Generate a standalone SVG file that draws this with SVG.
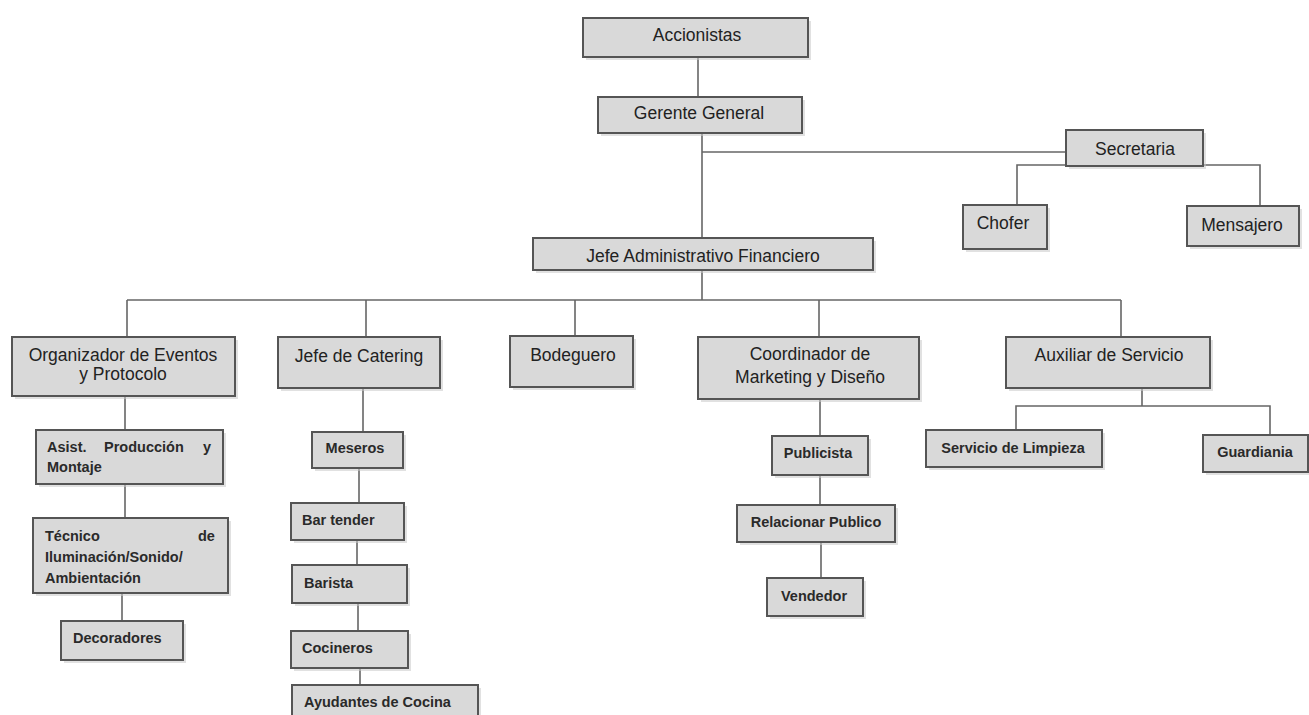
<svg xmlns="http://www.w3.org/2000/svg" width="1309" height="715" viewBox="0 0 1309 715">
<style>
.box{fill:#d9d9d9;stroke:#555;stroke-width:2}
.sh{fill:#c8c8c8;opacity:.55}
.t{font-family:"Liberation Sans",Arial,sans-serif;font-size:17.5px;fill:#222;text-anchor:middle}
.s{font-family:"Liberation Sans",Arial,sans-serif;font-size:14.5px;font-weight:bold;fill:#2a2a2a}
.c{text-anchor:middle}
.ln{stroke:#666;stroke-width:1.6;fill:none}
</style>
<rect width="1309" height="715" fill="#fff"/>
<g id="connectors">
<path class="ln" d="M698 57V97"/>
<path class="ln" d="M702 133V238"/>
<path class="ln" d="M702 152H1066"/>
<path class="ln" d="M1017 205V165H1260V206"/>
<path class="ln" d="M702 270V300"/>
<path class="ln" d="M127 300H1121"/>
<path class="ln" d="M127 300V337M366 300V337M575 300V336M819 300V337M1121 300V337"/>
<path class="ln" d="M125 396V430M125 484V518M122 593V621"/>
<path class="ln" d="M363 388V432M359 468V503M357 540V565M358 603V631M360 668V685"/>
<path class="ln" d="M820 399V436M820 475V505M821 542V578"/>
<path class="ln" d="M1142 388V406M1016 430V406H1270V435"/>
</g>
<g id="accionistas"><rect class="sh" x="586" y="21" width="225" height="39"/><rect class="box" x="583" y="18" width="225" height="39"/><text class="t" x="697" y="41">Accionistas</text></g>
<g id="gerente"><rect class="sh" x="601" y="100" width="204" height="36"/><rect class="box" x="598" y="97" width="204" height="36"/><text class="t" x="699" y="119">Gerente General</text></g>
<g id="secretaria"><rect class="sh" x="1069" y="133" width="137" height="36"/><rect class="box" x="1066" y="130" width="137" height="36"/><text class="t" x="1135" y="155">Secretaria</text></g>
<g id="chofer"><rect class="sh" x="966" y="208" width="84" height="44"/><rect class="box" x="963" y="205" width="84" height="44"/><text class="t" x="1003" y="229">Chofer</text></g>
<g id="mensajero"><rect class="sh" x="1190" y="209" width="112" height="40"/><rect class="box" x="1187" y="206" width="112" height="40"/><text class="t" x="1242" y="231">Mensajero</text></g>
<g id="jefe-admin"><rect class="sh" x="536" y="241" width="340" height="32"/><rect class="box" x="533" y="238" width="340" height="32"/><text class="t" x="703" y="262">Jefe Administrativo Financiero</text></g>
<g id="organizador"><rect class="sh" x="15" y="340" width="223" height="59"/><rect class="box" x="12" y="337" width="223" height="59"/><text class="t" x="123" y="361">Organizador de Eventos</text><text class="t" x="123" y="380">y Protocolo</text></g>
<g id="catering"><rect class="sh" x="281" y="340" width="162" height="51"/><rect class="box" x="278" y="337" width="162" height="51"/><text class="t" x="359" y="362">Jefe de Catering</text></g>
<g id="bodeguero"><rect class="sh" x="513" y="339" width="123" height="51"/><rect class="box" x="510" y="336" width="123" height="51"/><text class="t" x="573" y="361">Bodeguero</text></g>
<g id="coordinador"><rect class="sh" x="701" y="340" width="221" height="62"/><rect class="box" x="698" y="337" width="221" height="62"/><text class="t" x="810" y="360">Coordinador de</text><text class="t" x="810" y="383">Marketing y Diseño</text></g>
<g id="auxiliar"><rect class="sh" x="1009" y="340" width="204" height="51"/><rect class="box" x="1006" y="337" width="204" height="51"/><text class="t" x="1109" y="361">Auxiliar de Servicio</text></g>
<g id="asist"><rect class="sh" x="39" y="433" width="187" height="54"/><rect class="box" x="36" y="430" width="187" height="54"/><text class="s" x="47" y="452">Asist.</text><text class="s" x="104" y="452">Producción</text><text class="s" x="203" y="452">y</text><text class="s" x="47" y="472">Montaje</text></g>
<g id="tecnico"><rect class="sh" x="36" y="521" width="195" height="75"/><rect class="box" x="33" y="518" width="195" height="75"/><text class="s" x="45" y="541">Técnico</text><text class="s" x="198" y="541">de</text><text class="s" x="45" y="562">Iluminación/Sonido/</text><text class="s" x="45" y="583">Ambientación</text></g>
<g id="decoradores"><rect class="sh" x="64" y="624" width="122" height="39"/><rect class="box" x="61" y="621" width="122" height="39"/><text class="s" x="73" y="643">Decoradores</text></g>
<g id="meseros"><rect class="sh" x="315" y="435" width="91" height="36"/><rect class="box" x="312" y="432" width="91" height="36"/><text class="s c" x="355" y="453">Meseros</text></g>
<g id="bartender"><rect class="sh" x="294" y="506" width="113" height="37"/><rect class="box" x="291" y="503" width="113" height="37"/><text class="s" x="302" y="525">Bar tender</text></g>
<g id="barista"><rect class="sh" x="295" y="568" width="115" height="38"/><rect class="box" x="292" y="565" width="115" height="38"/><text class="s" x="304" y="588">Barista</text></g>
<g id="cocineros"><rect class="sh" x="294" y="634" width="117" height="37"/><rect class="box" x="291" y="631" width="117" height="37"/><text class="s" x="302" y="653">Cocineros</text></g>
<g id="ayudantes"><rect class="sh" x="295" y="688" width="186" height="40"/><rect class="box" x="292" y="685" width="186" height="40"/><text class="s" x="304" y="707">Ayudantes de Cocina</text></g>
<g id="publicista"><rect class="sh" x="775" y="439" width="96" height="39"/><rect class="box" x="772" y="436" width="96" height="39"/><text class="s c" x="818" y="458">Publicista</text></g>
<g id="relacionar"><rect class="sh" x="740" y="508" width="158" height="37"/><rect class="box" x="737" y="505" width="158" height="37"/><text class="s c" x="816" y="527">Relacionar Publico</text></g>
<g id="vendedor"><rect class="sh" x="770" y="581" width="96" height="38"/><rect class="box" x="767" y="578" width="96" height="38"/><text class="s c" x="814" y="601">Vendedor</text></g>
<g id="limpieza"><rect class="sh" x="929" y="433" width="176" height="37"/><rect class="box" x="926" y="430" width="176" height="37"/><text class="s c" x="1013" y="453">Servicio de Limpieza</text></g>
<g id="guardiania"><rect class="sh" x="1206" y="438" width="105" height="37"/><rect class="box" x="1203" y="435" width="105" height="37"/><text class="s c" x="1255" y="457">Guardiania</text></g>
</svg>
